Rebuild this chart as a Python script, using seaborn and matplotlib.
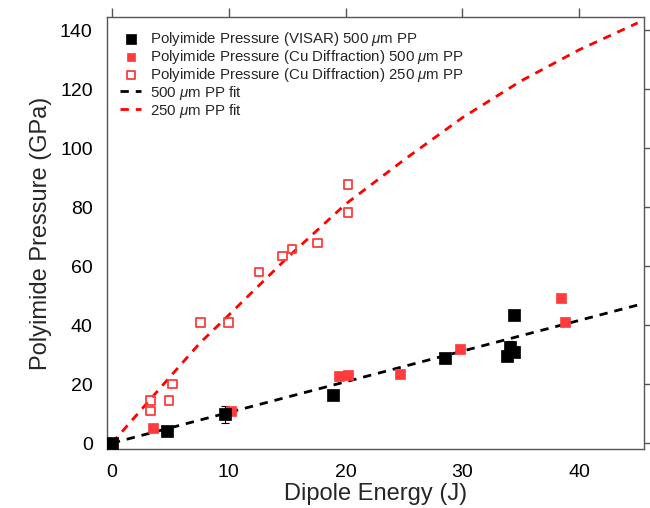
import numpy as np
import pandas as pd
import seaborn as sns
import matplotlib.pyplot as plt

# VISAR points (500 um PP)
visar_e = [0.0, 4.7, 9.7, 18.9, 28.5, 33.8, 34.1, 34.4, 34.4]
visar_p = [0.0, 4.2, 9.8, 16.3, 28.7, 29.5, 32.7, 31.0, 43.3]
visar_err = [0.5, 0.6, 2.8, 0.6, 0.8, 1.8, 2.0, 1.8, 1.5]

# Cu diffraction, 500 um PP
cu500_e = [3.5, 10.2, 19.4, 20.2, 24.7, 29.8, 38.4, 38.8]
cu500_p = [5.0, 10.9, 22.7, 23.2, 23.6, 31.9, 49.3, 41.1]

# Cu diffraction, 250 um PP
cu250_e = [3.3, 3.3, 4.9, 5.2, 7.6, 10.0, 12.6, 14.6, 15.4, 17.6, 20.2, 20.2]
cu250_p = [14.5, 10.9, 14.5, 20.1, 40.8, 40.8, 58.0, 63.4, 65.8, 67.9, 78.1, 87.7]

# fit curves
fit500_e = [0, 45]
fit500_p = [0, 46.8]
fit250_e = [0, 5, 7.5, 10, 15, 20, 25, 30, 35, 40, 45]
fit250_p = [0, 22.6, 33.8, 43.4, 62.8, 81.0, 96.0, 110.3, 122.7, 133.3, 142.4]

sns.set_style("white")
plt.rcParams['font.family'] = ['Liberation Sans', 'DejaVu Sans']
plt.rcParams['mathtext.fontset'] = 'custom'
plt.rcParams['mathtext.it'] = 'Liberation Sans:italic'
plt.rcParams['mathtext.rm'] = 'Liberation Sans'

fig = plt.figure(figsize=(6.5, 5.08), dpi=100)
ax = fig.add_axes([0.165, 0.116, 0.825, 0.8505])

red = '#ff3b3b'

ax.errorbar(visar_e, visar_p, yerr=visar_err, fmt='none', ecolor='black',
            elinewidth=0.8, capsize=3, capthick=0.8, zorder=2)

sns.lineplot(x=fit500_e, y=fit500_p, ax=ax, color='black', lw=2,
             linestyle=(0, (3, 2.5)), label='500 $\\mu$m PP fit', zorder=1)
sns.lineplot(x=fit250_e, y=fit250_p, ax=ax, color='red', lw=2,
             linestyle=(0, (3, 2.5)), label='250 $\\mu$m PP fit', zorder=1)

sns.scatterplot(x=visar_e, y=visar_p, ax=ax, marker='s', s=75, color='black',
                edgecolor='black', linewidth=0.5, zorder=4,
                label='Polyimide Pressure (VISAR) 500 $\\mu$m PP')
sns.scatterplot(x=cu500_e, y=cu500_p, ax=ax, marker='s', s=50, color=red,
                edgecolor=red, linewidth=0.5, zorder=3,
                label='Polyimide Pressure (Cu Diffraction) 500 $\\mu$m PP')
sns.scatterplot(x=cu250_e, y=cu250_p, ax=ax, marker='s', s=38, facecolor='none',
                edgecolor=red, linewidth=1.3, zorder=3,
                label='Polyimide Pressure (Cu Diffraction) 250 $\\mu$m PP')

ax.set_xlim(-0.4, 45.5)
ax.set_ylim(-2.0, 144.4)
ax.set_xticks([0, 10, 20, 30, 40])
ax.set_yticks([0, 20, 40, 60, 80, 100, 120, 140])
ax.set_xlabel('Dipole Energy (J)', fontsize=17, labelpad=2)
ax.set_ylabel('Polyimide Pressure (GPa)', fontsize=17, labelpad=6)

for s in ax.spines.values():
    s.set_color('#555555')
    s.set_linewidth(1.0)
ax.tick_params(direction='out', length=6.5, width=1.0, color='#555555',
               labelsize=14, top=True, right=True, labelcolor='black', pad=4)

h, l = ax.get_legend_handles_labels()
order = [2, 3, 4, 0, 1]
ax.legend([h[i] for i in order], [l[i] for i in order], loc='upper left',
          bbox_to_anchor=(0.005, 0.995), frameon=False, fontsize=10.8,
          labelspacing=0.0, handlelength=1.4, handletextpad=0.6,
          borderaxespad=0.3, markerscale=0.9)

fig.savefig('out.png', dpi=100)
